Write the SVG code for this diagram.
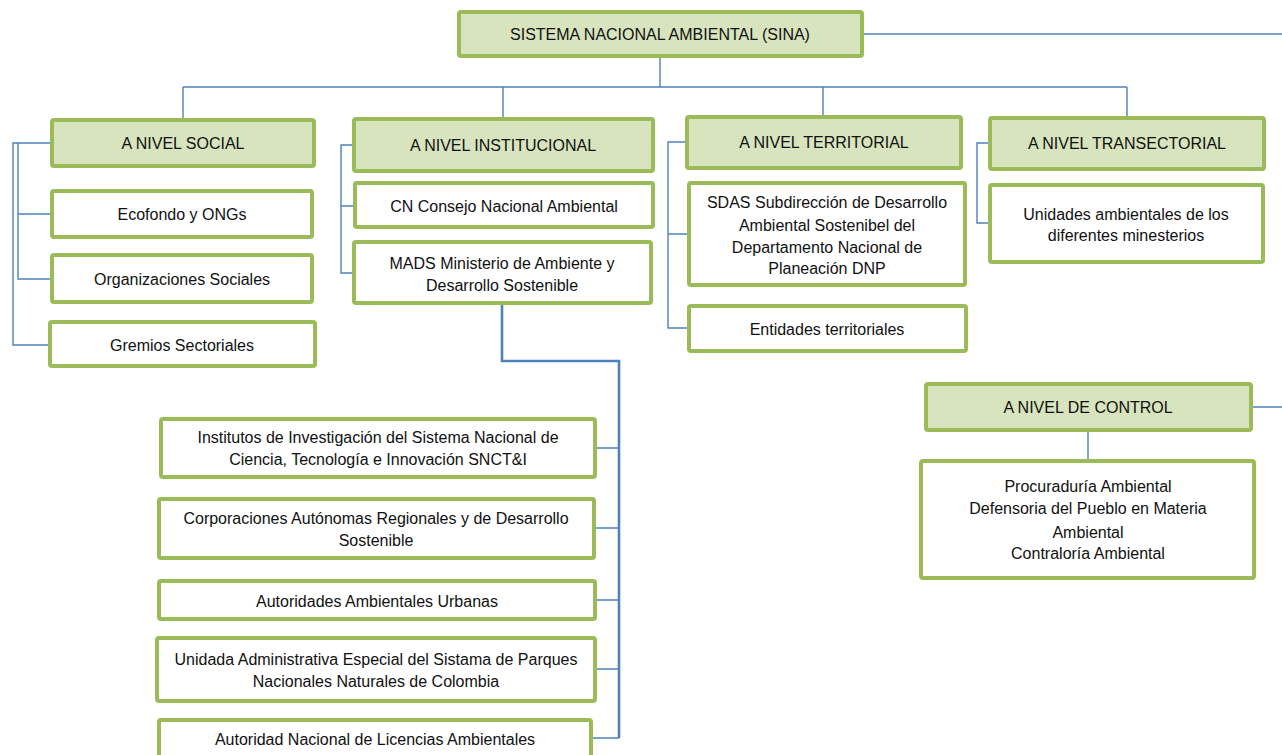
<svg xmlns="http://www.w3.org/2000/svg" width="1282" height="755" viewBox="0 0 1282 755">
<style>
.box{fill:#ffffff;stroke:#9bbb59;stroke-width:4;}
.hdr{fill:#d7e4bd;stroke:#9bbb59;stroke-width:4;}
text{font-family:"Liberation Sans",Arial,sans-serif;font-size:16px;fill:#111111;text-anchor:middle;}
.c{fill:none;stroke:#4f81bd;stroke-width:1.4;}
.t{fill:none;stroke:#4f81bd;stroke-width:2.6;}
</style>
<rect width="1282" height="755" fill="#ffffff"/>
<g id="connectors">
<path class="c" d="M660,58 V87 M183,87 H1127 M183,87 V118 M503,87 V117 M823,87 V115 M1127,87 V116"/>
<path class="c" d="M864,34 H1282"/>
<path class="c" d="M50,143 H13 V345 H48 M18,143 V279 H50 M18,214 H50"/>
<path class="c" d="M352,145 H341 V273 H352 M341,206 H353"/>
<path class="c" d="M685,142 H668 V328 H687 M668,234 H687"/>
<path class="c" d="M988,143 H977 V223 H988"/>
<path class="c" d="M1253,407 H1282 M1088,432 V459"/>
<path class="t" d="M502,305 V361 H619 V738"/>
<path class="c" d="M597,448 H619 M596,528 H619 M597,600 H619 M597,669 H619 M593,738 H619"/>
</g>
<g id="sina"><rect class="hdr" x="459" y="12" width="403" height="44" rx="2"/><text x="660" y="39.5">SISTEMA NACIONAL AMBIENTAL (SINA)</text></g>
<g id="social"><rect class="hdr" x="52" y="120" width="262" height="46" rx="2"/><text x="183" y="148.5">A NIVEL SOCIAL</text></g>
<g id="ecofondo"><rect class="box" x="52" y="191" width="260" height="46" rx="2"/><text x="182" y="219.5">Ecofondo y ONGs</text></g>
<g id="organizaciones"><rect class="box" x="52" y="255" width="260" height="47" rx="2"/><text x="182" y="284.5">Organizaciones Sociales</text></g>
<g id="gremios"><rect class="box" x="50" y="322" width="265" height="44" rx="2"/><text x="182" y="350.5">Gremios Sectoriales</text></g>
<g id="institucional"><rect class="hdr" x="354" y="119" width="299" height="52" rx="2"/><text x="503" y="150.5">A NIVEL INSTITUCIONAL</text></g>
<g id="cn"><rect class="box" x="355" y="183" width="298" height="44" rx="2"/><text x="504" y="211.5">CN Consejo Nacional Ambiental</text></g>
<g id="mads"><rect class="box" x="354" y="242" width="297" height="61" rx="2"/><text x="502" y="268.5">MADS Ministerio de Ambiente y</text><text x="502" y="290.5">Desarrollo Sostenible</text></g>
<g id="territorial"><rect class="hdr" x="687" y="117" width="274" height="51" rx="2"/><text x="824" y="147.5">A NIVEL TERRITORIAL</text></g>
<g id="sdas"><rect class="box" x="689" y="183" width="276" height="102" rx="2"/><text x="827" y="207.5">SDAS Subdirección de Desarrollo</text><text x="827" y="230.5">Ambiental Sostenibel del</text><text x="827" y="252.5">Departamento Nacional de</text><text x="827" y="273.5">Planeación DNP</text></g>
<g id="entidades"><rect class="box" x="689" y="306" width="277" height="45" rx="2"/><text x="827" y="334.5">Entidades territoriales</text></g>
<g id="transectorial"><rect class="hdr" x="990" y="118" width="274" height="51" rx="2"/><text x="1127" y="148.5">A NIVEL TRANSECTORIAL</text></g>
<g id="unidades"><rect class="box" x="990" y="185" width="273" height="77" rx="2"/><text x="1126" y="219.5">Unidades ambientales de los</text><text x="1126" y="240.5">diferentes minesterios</text></g>
<g id="control"><rect class="hdr" x="926" y="384" width="325" height="46" rx="2"/><text x="1088" y="412.5">A NIVEL DE CONTROL</text></g>
<g id="control-entidades"><rect class="box" x="921" y="461" width="333" height="117" rx="2"/><text x="1088" y="491.5">Procuraduría Ambiental</text><text x="1088" y="513.5">Defensoria del Pueblo en Materia</text><text x="1088" y="537.5">Ambiental</text><text x="1088" y="558.5">Contraloría Ambiental</text></g>
<g id="institutos"><rect class="box" x="161" y="419" width="434" height="58" rx="2"/><text x="378" y="442.5">Institutos de Investigación del Sistema Nacional de</text><text x="378" y="464.5">Ciencia, Tecnología e Innovación SNCT&amp;I</text></g>
<g id="corporaciones"><rect class="box" x="159" y="499" width="435" height="59" rx="2"/><text x="376" y="523.5">Corporaciones Autónomas Regionales y de Desarrollo</text><text x="376" y="545.5">Sostenible</text></g>
<g id="autoridades-urbanas"><rect class="box" x="159" y="581" width="436" height="38" rx="2"/><text x="377" y="606.5">Autoridades Ambientales Urbanas</text></g>
<g id="parques"><rect class="box" x="157" y="638" width="438" height="63" rx="2"/><text x="376" y="664.5">Unidada Administrativa Especial del Sistama de Parques</text><text x="376" y="686.5">Nacionales Naturales de Colombia</text></g>
<g id="anla"><rect class="box" x="159" y="720" width="432" height="45" rx="2"/><text x="375" y="744.5">Autoridad Nacional de Licencias Ambientales</text></g>
</svg>
